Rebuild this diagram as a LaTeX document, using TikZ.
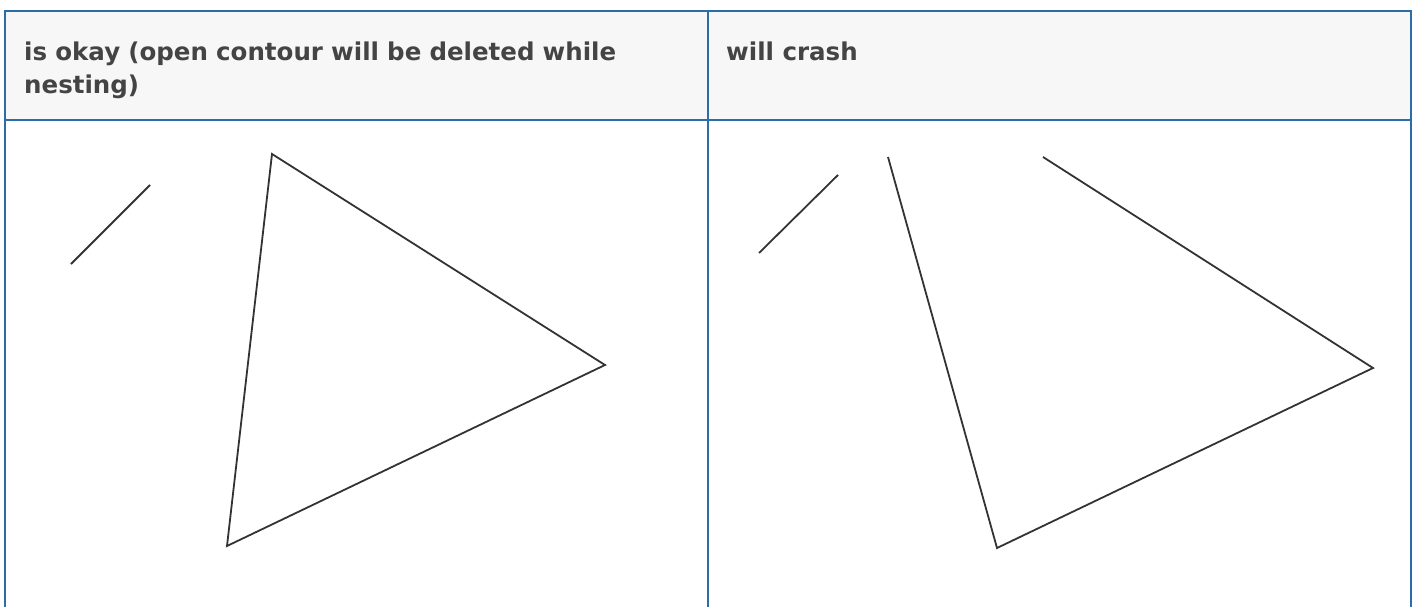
\documentclass[tikz,border=0pt]{standalone}
\usepackage{fontspec}
\setmainfont{DejaVu Sans}
\usetikzlibrary{positioning}
\definecolor{gridblue}{HTML}{2B6DA8}
\definecolor{headgray}{HTML}{F7F7F7}
\definecolor{inkgray}{HTML}{444444}
\definecolor{linegray}{HTML}{333333}
\tikzset{
  cellline/.style={draw=gridblue, line width=2pt},
  headtext/.style={anchor=north west, inner sep=0pt, text=inkgray, align=left,
    font=\bfseries\fontsize{24.5}{33}\selectfont},
  contour/.style={draw=linegray, line width=1.8pt, line join=miter, line cap=butt}
}
\begin{document}
\begin{tikzpicture}[x=1pt, y=-1pt]
  \useasboundingbox (0,0) rectangle (1415,607);
  % table head
  \fill[headgray] (5,11) rectangle (1411,120);
  \draw[cellline] (5,612) -- (5,11) -- (1411,11) -- (1411,612);
  \draw[cellline] (5,120) -- (1411,120);
  \draw[cellline] (708,11) -- (708,612);
  \node[headtext, text width=640pt] (okhead) at (24,42) {is okay (open contour will be deleted while nesting)};
  \node[headtext] (crashhead) at (726,42) {will crash};

  % left cell: stray line and closed triangle
  \coordinate (la) at (71,264);
  \coordinate (lb) at (150,185);
  \draw[contour] (la) -- (lb);
  \coordinate (ta) at (272,154);
  \coordinate (tb) at (605,365);
  \coordinate (tc) at (227,546);
  \draw[contour] (ta) -- (tb) -- (tc) -- cycle;

  % right cell: stray line and open contour
  \coordinate (ra) at (759,253);
  \coordinate (rb) at (838,175);
  \draw[contour] (ra) -- (rb);
  \coordinate (oa) at (888,157);
  \coordinate (ob) at (997,548);
  \coordinate (oc) at (1373,368);
  \coordinate (od) at (1043,157);
  \draw[contour] (oa) -- (ob) -- (oc) -- (od);
\end{tikzpicture}
\end{document}
